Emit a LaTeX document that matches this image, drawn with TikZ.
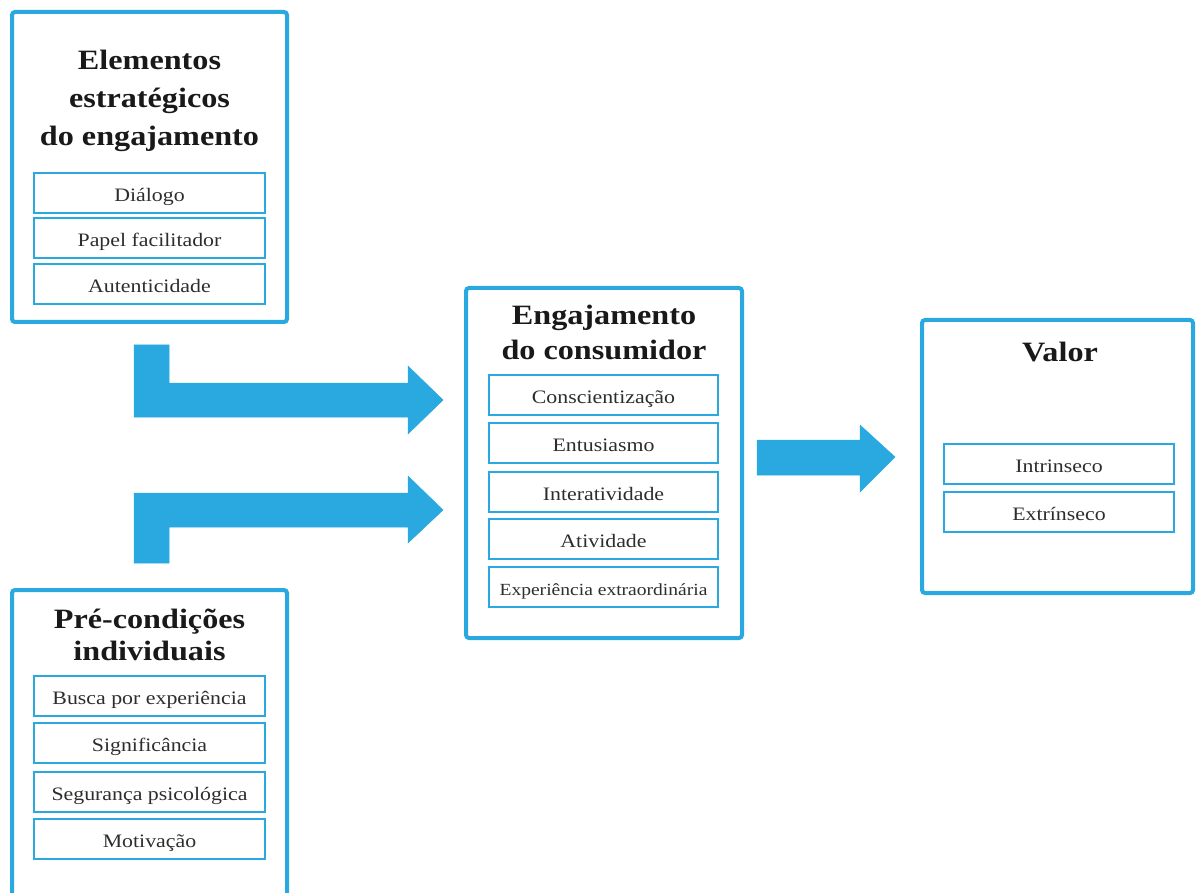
\documentclass[tikz,border=0pt]{standalone}
\usepackage[rgb]{xcolor}
\usepackage{fontspec}
\setmainfont{Liberation Serif}[FakeStretch=1.15]
\usepackage{tikz}
\definecolor{engblue}{RGB}{41,169,224}
\definecolor{txtgray}{RGB}{45,45,45}

\begin{document}
\begin{tikzpicture}[x=1pt, y=-1pt,
  outerbox/.style={draw=engblue, line width=4pt, rounded corners=3pt, inner sep=0pt},
  subbox/.style={draw=engblue, line width=2pt, minimum height=40pt, inner sep=0pt,
    text height=17pt, text depth=0pt, text=txtgray, font=\fontsize{19}{22}\selectfont},
  titletext/.style={font=\bfseries\fontsize{28}{38}\selectfont, align=center,
    inner sep=0pt, text=black!90},
  blockarrow/.style={fill=engblue, draw=engblue, line width=0.5pt}]

\useasboundingbox (0,0) rectangle (1197,893);


% Elementos estrategicos
\node[outerbox, minimum width=275pt, minimum height=310pt] (elem) at (149.5,167) {};
\path 
(149.5,49.5) node[titletext, anchor=north] (elemT) {Elementos\\estratégicos\\do engajamento};

\node[subbox, minimum width=231pt] (dial) at (149.5,193) {Diálogo};
\node[subbox, minimum width=231pt] (papel) at (149.5,238.5) {Papel facilitador};
\node[subbox, minimum width=231pt] (autent) at (149.5,284.5) {Autenticidade};


% Pre-condicoes individuais
\node[outerbox, minimum width=275pt, minimum height=306pt] (prec) at (149.5,743) {};
\path 
(149.5,609) node[titletext, anchor=north, font=\bfseries\fontsize{28}{32}\selectfont] (precT) {Pré-condições\\individuais};

\node[subbox, minimum width=231pt] (busca) at (149.5,695.5) {Busca por experiência};
\node[subbox, minimum width=231pt] (signif) at (149.5,743) {Significância};
\node[subbox, minimum width=231pt] (segur) at (149.5,791.5) {Segurança psicológica};
\node[subbox, minimum width=231pt] (motiv) at (149.5,838.5) {Motivação};


% Engajamento do consumidor
\node[outerbox, minimum width=276pt, minimum height=350pt] (eng) at (604,463) {};
\path 
(604,305) node[titletext, anchor=north, font=\bfseries\fontsize{28}{35}\selectfont] (engT) {Engajamento\\do consumidor};

\node[subbox, minimum width=229pt] (consc) at (603.5,395) {Conscientização};
\node[subbox, minimum width=229pt] (entus) at (603.5,443) {Entusiasmo};
\node[subbox, minimum width=229pt] (inter) at (603.5,491.5) {Interatividade};
\node[subbox, minimum width=229pt] (ativ) at (603.5,539) {Atividade};
\node[subbox, minimum width=229pt, text height=16pt, font=\fontsize{17}{20}\selectfont] (exper) at (603.5,587) {Experiência extraordinária};


% Valor
\node[outerbox, minimum width=271pt, minimum height=273pt] (valor) at (1057.5,456.5) {};
\path 
(1060,361) node[titletext, anchor=base] (valorT) {Valor};

\node[subbox, minimum width=230pt] (intr) at (1059,463.5) {Intrinseco};
\node[subbox, minimum width=230pt] (extr) at (1059,512) {Extrínseco};


% Block arrows
\coordinate (tipA) at (443,400);
\coordinate (tipB) at (443,510);
\coordinate (tipC) at (895,457);

\filldraw[blockarrow] (134,345) -- (169,345) -- (169,383) -- (408,383) -- (408,366) -- (tipA)
  -- (408,434) -- (408,417) -- (134,417) -- cycle;

\filldraw[blockarrow] (134,563) -- (169,563) -- (169,527) -- (408,527) -- (408,543) -- (tipB)
  -- (408,476) -- (408,493) -- (134,493) -- cycle;

\filldraw[blockarrow] (757,440) -- (860,440) -- (860,425) -- (tipC)
  -- (860,492) -- (860,475) -- (757,475) -- cycle;


\end{tikzpicture}
\end{document}
